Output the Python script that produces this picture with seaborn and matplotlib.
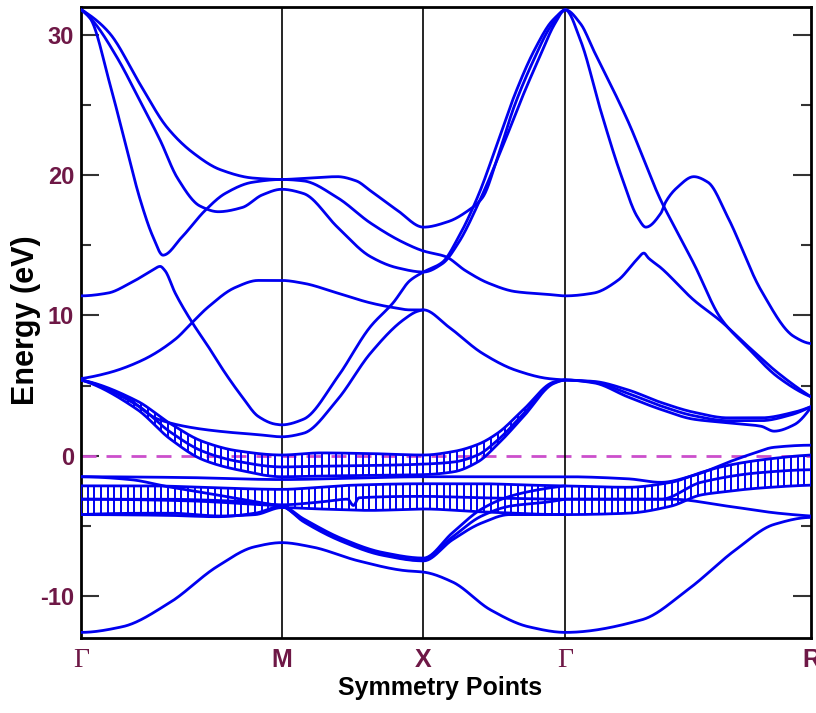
import numpy as np
import pandas as pd
import matplotlib
matplotlib.use("Agg")
import matplotlib.pyplot as plt
import seaborn as sns

# ---- path through the Brillouin zone (simple cubic, units of 2*pi/a) ----
sym_labels = ["Γ", "M", "X", "Γ", "R"]
sym_k = [0.0, 0.7071, 1.2071, 1.7071, 2.5731]
kmesh_divisions = [30, 21, 21, 37]

e_fermi = 0.0
e_limits = (-13.0, 32.0)
y_major = [-10, 0, 10, 20, 30]
y_minor = [-5, 5, 15, 25]

# ---- band energies (eV) at selected k along the path ----
band01_k = [0.0, 0.045, 0.102, 0.208, 0.304, 0.395, 0.491, 0.607, 0.7071, 0.80, 0.904, 0.97, 1.02, 1.115,
            1.2071, 1.295, 1.366, 1.415, 1.472, 1.525, 1.595, 1.655, 1.7071, 1.761, 1.807, 1.927, 2.044,
            2.09, 2.16, 2.255, 2.35, 2.457, 2.5731]
band01_e = [31.8, 31.2, 30.1, 26.5, 23.4, 21.6, 20.4, 19.8, 19.7, 19.8, 19.9, 19.6, 18.9, 17.5,
            16.3, 16.7, 17.5, 18.4, 21.5, 24.8, 28.2, 30.6, 31.8, 30.8, 28.9, 23.9, 18.2,
            16.4, 13.7, 9.8, 7.7, 5.6, 4.2]

band02_k = [0.0, 0.042, 0.127, 0.208, 0.279, 0.34, 0.42, 0.484, 0.568, 0.639, 0.7071, 0.784, 0.904, 1.02,
            1.115, 1.2071, 1.274, 1.331, 1.401, 1.489, 1.56, 1.62, 1.67, 1.7071, 1.761, 1.832, 1.902,
            1.962, 1.991, 2.044, 2.061, 2.10, 2.16, 2.21, 2.28, 2.397, 2.513, 2.5731]
band02_e = [31.8, 31.0, 28.4, 25.3, 22.5, 19.8, 17.8, 17.4, 17.7, 18.6, 19.0, 18.7, 16.3, 14.2,
            13.4, 13.1, 13.7, 15.2, 18.0, 22.2, 25.8, 28.6, 30.8, 31.8, 29.6, 24.6, 20.1,
            17.0, 16.3, 17.3, 18.1, 19.1, 19.9, 19.5, 17.0, 11.8, 8.5, 8.0]

band03_k = [0.0, 0.032, 0.102, 0.162, 0.208, 0.254, 0.289, 0.356, 0.438, 0.508, 0.604, 0.7071, 0.784, 0.904,
            1.02, 1.137, 1.2071, 1.285, 1.355, 1.437, 1.532, 1.648, 1.7071, 1.807, 1.892, 1.96, 1.984,
            2.0, 2.044, 2.16, 2.255, 2.351, 2.457, 2.5731]
band03_e = [31.8, 31.2, 26.5, 21.8, 18.3, 15.6, 14.3, 15.6, 17.5, 18.7, 19.5, 19.7, 19.6, 18.4,
            16.6, 15.2, 14.6, 14.2, 13.2, 12.3, 11.7, 11.5, 11.4, 11.6, 12.5, 14.0, 14.45,
            14.1, 13.4, 11.1, 9.6, 7.8, 5.9, 4.2]

band04_k = [0.0, 0.095, 0.173, 0.25, 0.279, 0.296, 0.332, 0.392, 0.448, 0.508, 0.568, 0.625, 0.685, 0.7071,
            0.784, 0.904, 1.02, 1.10, 1.16, 1.2071, 1.274, 1.331, 1.401, 1.468, 1.53, 1.60, 1.66, 1.7071]
band04_e = [11.4, 11.6, 12.3, 13.2, 13.5, 13.2, 11.6, 9.5, 7.8, 5.9, 4.2, 2.8, 2.25, 2.2,
            2.6, 5.6, 9.2, 10.9, 12.5, 13.1, 13.8, 15.6, 18.6, 22.3, 25.8, 29.0, 31.0, 31.8]

band05_k = [0.0, 0.095, 0.215, 0.332, 0.392, 0.448, 0.544, 0.625, 0.7071, 0.784, 0.904, 1.02, 1.091, 1.161,
            1.2071, 1.295, 1.415, 1.532, 1.648, 1.7071, 1.807, 1.927, 2.044, 2.16, 2.28, 2.397, 2.513, 2.5731]
band05_e = [5.5, 5.9, 6.8, 8.3, 9.5, 10.6, 12.0, 12.5, 12.5, 12.3, 11.6, 10.9, 10.6, 10.4,
            10.4, 9.2, 7.3, 6.1, 5.5, 5.4, 5.3, 4.7, 3.8, 3.1, 2.7, 2.7, 3.1, 3.5]

band06_k = [0.0, 0.155, 0.272, 0.392, 0.508, 0.625, 0.7071, 0.784, 0.904, 1.02, 1.137, 1.186, 1.2071]
band06_e = [5.4, 4.2, 2.6, 2.0, 1.7, 1.5, 1.35, 1.6, 4.0, 7.3, 9.7, 10.3, 10.4]

band07_k = [1.7071, 1.807, 1.927, 2.044, 2.16, 2.28, 2.397, 2.443, 2.513, 2.5731]
band07_e = [5.4, 5.2, 4.2, 3.3, 2.6, 2.35, 2.1, 1.75, 2.2, 3.45]

band08_k = [1.7071, 1.807, 1.927, 2.044, 2.16, 2.28, 2.397, 2.50, 2.5731]
band08_e = [5.4, 5.25, 4.45, 3.55, 2.85, 2.5, 2.5, 2.9, 3.5]

# conduction bands with strong orbital weight near the Fermi level
fat_up_k = [0.0, 0.198, 0.314, 0.431, 0.551, 0.7071, 0.844, 1.02, 1.2071, 1.313, 1.398, 1.468, 1.56, 1.666, 1.7071]
fat_up_top_e = [5.4, 3.9, 2.3, 1.0, 0.35, 0.05, 0.2, 0.15, 0.05, 0.3, 0.8, 1.6, 3.3, 5.25, 5.4]
fat_up_mid_e = [5.4, 3.6, 1.7, 0.3, -0.4, -0.8, -0.75, -0.7, -0.6, -0.45, 0.05, 1.1, 3.0, 5.2, 5.4]
fat_up_bot_e = [5.4, 3.3, 1.2, -0.3, -1.0, -1.5, -1.45, -1.4, -1.35, -1.15, -0.45, 0.8, 2.8, 5.15, 5.4]

# valence bands with strong orbital weight
fat_lo_top_k = [0.0, 0.244, 0.42, 0.7071, 0.844, 0.96, 1.2071, 1.408, 1.585, 1.7071, 1.927, 2.079, 2.185,
                2.255, 2.397, 2.5731]
fat_lo_top_e = [-2.15, -2.15, -2.25, -2.4, -2.25, -2.1, -2.0, -2.0, -2.1, -2.15, -2.25, -1.9, -1.2,
                -0.8, -0.3, 0.05]
fat_lo_mid_k = [0.0, 0.279, 0.551, 0.7071, 0.844, 0.94, 0.96, 0.98, 1.2071, 1.408, 1.7071, 2.044, 2.185,
                2.397, 2.5731]
fat_lo_mid_e = [-3.1, -3.1, -3.25, -3.5, -3.3, -3.1, -3.55, -3.0, -2.9, -3.0, -3.1, -3.1, -1.9,
                -1.2, -1.0]
fat_lo_bot_k = [0.0, 0.314, 0.491, 0.614, 0.7071, 0.844, 1.02, 1.2071, 1.408, 1.7071, 1.927, 2.079, 2.185,
                2.255, 2.397, 2.5731]
fat_lo_bot_e = [-4.2, -4.1, -4.3, -4.2, -3.7, -3.8, -3.9, -3.8, -4.0, -4.2, -4.1, -3.6, -2.8,
                -2.6, -2.3, -2.1]

band09_k = [0.0, 0.35, 0.7071, 0.96, 1.2071, 1.45, 1.7071, 1.93, 2.044, 2.16, 2.29, 2.36, 2.443, 2.5731]
band09_e = [-1.5, -1.55, -1.7, -1.6, -1.5, -1.5, -1.5, -1.65, -1.9, -1.4, -0.4, 0.1, 0.6, 0.75]

band10_k = [0.0, 0.173, 0.304, 0.48, 0.646, 0.7071, 0.784, 0.918, 1.063, 1.193, 1.2071, 1.309, 1.412,
            1.511, 1.645, 1.7071]
band10_e = [-1.5, -1.7, -2.2, -2.8, -3.4, -3.6, -4.6, -6.0, -7.0, -7.45, -7.4, -5.8, -4.3,
            -3.6, -3.3, -3.1]

band11_k = [0.0, 0.3, 0.48, 0.614, 0.7071, 0.784, 0.918, 1.063, 1.2071, 1.309, 1.412, 1.511, 1.62, 1.7071]
band11_e = [-4.2, -4.25, -4.35, -4.1, -3.6, -4.5, -5.9, -6.9, -7.3, -5.5, -3.8, -2.9, -2.4, -2.15]

band12_k = [0.0, 0.35, 0.6, 0.7071, 0.784, 0.918, 1.063, 1.2071, 1.309, 1.412, 1.511, 1.7071]
band12_e = [-3.1, -3.2, -3.45, -3.6, -4.7, -6.1, -7.1, -7.5, -6.0, -4.8, -4.2, -4.2]

band13_k = [1.7071, 1.93, 2.079, 2.28, 2.457, 2.5731]
band13_e = [-3.1, -3.1, -3.1, -3.6, -4.1, -4.3]

band14_k = [0.0, 0.145, 0.311, 0.48, 0.611, 0.7071, 0.813, 0.978, 1.144, 1.2071, 1.309, 1.444, 1.578,
            1.7071, 1.977, 2.142, 2.308, 2.443, 2.5731]
band14_e = [-12.6, -12.2, -10.5, -7.9, -6.5, -6.2, -6.5, -7.5, -8.2, -8.3, -9.0, -11.0, -12.2,
            -12.6, -11.7, -9.5, -6.7, -4.9, -4.4]

line_bands = {
    "b01": (band01_k, band01_e), "b02": (band02_k, band02_e), "b03": (band03_k, band03_e),
    "b04": (band04_k, band04_e), "b05": (band05_k, band05_e), "b06": (band06_k, band06_e),
    "b07": (band07_k, band07_e), "b08": (band08_k, band08_e), "b09": (band09_k, band09_e),
    "b10": (band10_k, band10_e), "b11": (band11_k, band11_e), "b12": (band12_k, band12_e),
    "b13": (band13_k, band13_e), "b14": (band14_k, band14_e),
    "fu1": (fat_up_k, fat_up_top_e), "fu2": (fat_up_k, fat_up_mid_e), "fu3": (fat_up_k, fat_up_bot_e),
    "fl1": (fat_lo_top_k, fat_lo_top_e), "fl2": (fat_lo_mid_k, fat_lo_mid_e),
    "fl3": (fat_lo_bot_k, fat_lo_bot_e),
}


def pchip(xk, yk, xs):
    """Shape-preserving cubic through the tabulated band energies."""
    xk = np.asarray(xk, float)
    yk = np.asarray(yk, float)
    xs = np.asarray(xs, float)
    h = np.diff(xk)
    d = np.diff(yk) / h
    n = len(xk)
    m = np.zeros(n)
    for i in range(1, n - 1):
        if d[i - 1] * d[i] > 0:
            w1 = 2 * h[i] + h[i - 1]
            w2 = h[i] + 2 * h[i - 1]
            m[i] = (w1 + w2) / (w1 / d[i - 1] + w2 / d[i])

    def end_slope(h0, h1, d0, d1):
        s = ((2 * h0 + h1) * d0 - h0 * d1) / (h0 + h1)
        if np.sign(s) != np.sign(d0):
            s = 0.0
        elif np.sign(d0) != np.sign(d1) and abs(s) > abs(3 * d0):
            s = 3 * d0
        return s

    if n > 2:
        m[0] = end_slope(h[0], h[1], d[0], d[1])
        m[-1] = end_slope(h[-1], h[-2], d[-1], d[-2])
    else:
        m[:] = d[0]
    idx = np.clip(np.searchsorted(xk, xs, side="right") - 1, 0, n - 2)
    t = (xs - xk[idx]) / h[idx]
    t2, t3 = t * t, t * t * t
    return ((2 * t3 - 3 * t2 + 1) * yk[idx] + (t3 - 2 * t2 + t) * h[idx] * m[idx]
            + (-2 * t3 + 3 * t2) * yk[idx + 1] + (t3 - t2) * h[idx] * m[idx + 1])


# long-form table of the smoothed bands for seaborn
frames = []
for name, (kk, ee) in line_bands.items():
    ks = np.unique(np.concatenate([np.linspace(kk[0], kk[-1], 900), kk]))
    frames.append(pd.DataFrame({"k": ks, "E": pchip(kk, ee, ks), "band": name}))
bands_df = pd.concat(frames, ignore_index=True)

# k-mesh used for the orbital-weight bars
kmesh = np.unique(np.concatenate([
    np.linspace(sym_k[i], sym_k[i + 1], kmesh_divisions[i] + 1) for i in range(4)
]))

# ---- styling ----
sns.set_style("ticks")
plt.rcParams["font.family"] = ["Liberation Sans", "DejaVu Sans"]
plt.rcParams["axes.unicode_minus"] = False

band_color = "#0000f0"
label_color = "#6e1846"

fig = plt.figure(figsize=(8.16, 7.13), dpi=100)
ax = fig.add_axes([81 / 816, 1 - 638 / 713, 730 / 816, 631 / 713])

ax.axhline(e_fermi, color="#cc4fcc", lw=2.0, ls=(0, (5.4, 3.6)), zorder=1)
for kv in sym_k[1:-1]:
    ax.axvline(kv, color="black", lw=1.2, zorder=1)

sns.lineplot(data=bands_df, x="k", y="E", units="band", estimator=None, sort=False,
             color=band_color, lw=2.0, ax=ax, legend=False, zorder=3)

# orbital-weight bars
up_mask = (kmesh > 0.10) & (kmesh < 1.69)
ku = kmesh[up_mask]
ax.vlines(ku, pchip(fat_up_k, fat_up_bot_e, ku), pchip(fat_up_k, fat_up_top_e, ku),
          colors=band_color, lw=1.4, zorder=3)
ax.vlines(kmesh, pchip(fat_lo_bot_k, fat_lo_bot_e, kmesh), pchip(fat_lo_top_k, fat_lo_top_e, kmesh),
          colors=band_color, lw=1.4, zorder=3)

ax.set_xlim(sym_k[0], sym_k[-1])
ax.set_ylim(*e_limits)
ax.set_xlabel("")
ax.set_ylabel("")

ax.set_yticks(y_major)
ax.set_yticks(y_minor, minor=True)
ax.tick_params(axis="y", which="major", direction="in", length=13, width=1.5, left=True, right=True,
               color="#333333", labelcolor=label_color, labelsize=17, pad=5)
ax.tick_params(axis="y", which="minor", direction="in", length=7, width=1.5, left=True, right=True,
               color="#333333")
for lab in ax.get_yticklabels():
    lab.set_fontweight("bold")

ax.set_xticks(sym_k)
ax.tick_params(axis="x", which="both", length=0, pad=7, labelcolor=label_color)
ax.set_xticklabels(sym_labels, fontsize=18, fontweight="bold", color=label_color)
for lab in ax.get_xticklabels():
    if lab.get_text() == "Γ":
        lab.set_family(["Liberation Serif", "DejaVu Serif"])
        lab.set_fontweight("normal")
        lab.set_fontsize(20)

for sp in ax.spines.values():
    sp.set_visible(True)
    sp.set_linewidth(2.0)
    sp.set_color("black")

ax.text(-0.0753, 0.504, "Energy (eV)", transform=ax.transAxes, rotation=90, ha="center", va="center",
        fontsize=22, fontweight="bold", color="black")
ax.text(0.4918, -0.080, "Symmetry Points", transform=ax.transAxes, ha="center", va="center",
        fontsize=18, fontweight="bold", color="black")

fig.savefig("out.png", dpi=100)
